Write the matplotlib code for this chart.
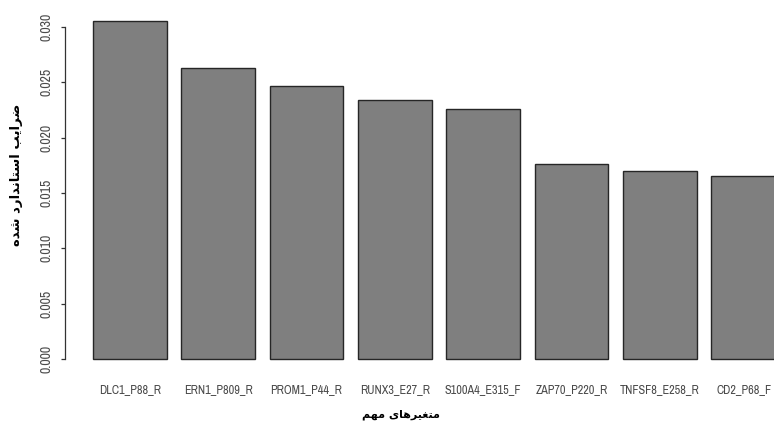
#!/usr/bin/env python3
from __future__ import annotations

import matplotlib

matplotlib.use("Agg")
import matplotlib.pyplot as plt
from matplotlib.transforms import ScaledTranslation


# data
variables = [
    "DLC1_P88_R",
    "ERN1_P809_R",
    "PROM1_P44_R",
    "RUNX3_E27_R",
    "S100A4_E315_F",
    "ZAP70_P220_R",
    "TNFSF8_E258_R",
    "CD2_P68_F",
]
coefficients = [0.03054, 0.02627, 0.02470, 0.02343, 0.02262, 0.01759, 0.01699, 0.01654]
y_ticks = [0.000, 0.005, 0.010, 0.015, 0.020, 0.025, 0.030]

x_title = "متغیرهای مهم"
y_title = "ضرایب استاندارد شده"

PLOT_CFG = {
    "dpi": 100,
    "width_px": 774,
    "height_px": 428,
    "bar_color": "#7f7f7f",
    "edge_color": "#262626",
    "tick_color": "#4a4a4a",
    "narrow_fonts": ["Archivo Narrow", "PT Sans Narrow", "Roboto Condensed", "Liberation Sans"],
}

# (isolated, final, initial, medial) presentation forms; matplotlib has no shaping
ARABIC_FORMS = {
    "ا": ("\ufe8d", "\ufe8e", None, None),
    "ب": ("\ufe8f", "\ufe90", "\ufe91", "\ufe92"),
    "ت": ("\ufe95", "\ufe96", "\ufe97", "\ufe98"),
    "د": ("\ufea9", "\ufeaa", None, None),
    "ر": ("\ufead", "\ufeae", None, None),
    "س": ("\ufeb1", "\ufeb2", "\ufeb3", "\ufeb4"),
    "ش": ("\ufeb5", "\ufeb6", "\ufeb7", "\ufeb8"),
    "ض": ("\ufebd", "\ufebe", "\ufebf", "\ufec0"),
    "غ": ("\ufecd", "\ufece", "\ufecf", "\ufed0"),
    "م": ("\ufee1", "\ufee2", "\ufee3", "\ufee4"),
    "ن": ("\ufee5", "\ufee6", "\ufee7", "\ufee8"),
    "ه": ("\ufee9", "\ufeea", "\ufeeb", "\ufeec"),
    "ی": ("\ufbfc", "\ufbfd", "\ufbfe", "\ufbff"),
}


def shape_rtl(text: str) -> str:
    out = []
    for i, ch in enumerate(text):
        forms = ARABIC_FORMS.get(ch)
        if forms is None:
            out.append(ch)
            continue
        prev = ARABIC_FORMS.get(text[i - 1]) if i > 0 else None
        nxt = ARABIC_FORMS.get(text[i + 1]) if i + 1 < len(text) else None
        join_prev = prev is not None and prev[2] is not None
        join_next = nxt is not None and forms[2] is not None
        if join_prev and join_next:
            out.append(forms[3])
        elif join_prev:
            out.append(forms[1])
        elif join_next:
            out.append(forms[2])
        else:
            out.append(forms[0])
    return "".join(reversed(out))


def main() -> None:
    tick_font = PLOT_CFG["narrow_fonts"]
    W, H = PLOT_CFG["width_px"], PLOT_CFG["height_px"]

    fig = plt.figure(figsize=(W / PLOT_CFG["dpi"], H / PLOT_CFG["dpi"]), dpi=PLOT_CFG["dpi"])
    # plot region runs past the right edge, like the cropped original
    left_px, right_px, top_px, bottom_px = 65.3, 812.5, 7.5, 372.5
    ax = fig.add_axes(
        [left_px / W, 1 - bottom_px / H, (right_px - left_px) / W, (bottom_px - top_px) / H]
    )

    n = len(variables)
    centers = [0.7 + 1.2 * i for i in range(n)]
    ax.bar(
        centers,
        coefficients,
        width=1.0,
        color=PLOT_CFG["bar_color"],
        edgecolor=PLOT_CFG["edge_color"],
        linewidth=1.0,
    )

    x_lo, x_hi = 0.2, 0.2 + 1.2 * n - 0.2
    ax.set_xlim(x_lo - 0.04 * (x_hi - x_lo), x_hi + 0.04 * (x_hi - x_lo))
    y_hi = max(coefficients)
    ax.set_ylim(-0.04 * y_hi, 1.04 * y_hi)

    for side in ["top", "right", "bottom"]:
        ax.spines[side].set_visible(False)
    ax.spines["left"].set_bounds(y_ticks[0], y_ticks[-1])
    ax.spines["left"].set_linewidth(0.9)
    ax.spines["left"].set_color("#333333")

    ax.set_yticks(y_ticks)
    ax.set_yticklabels([f"{t:.3f}" for t in y_ticks], rotation=90, va="center",
                       fontfamily=tick_font, fontsize=10, color=PLOT_CFG["tick_color"])
    ax.tick_params(axis="y", length=3.2, width=0.9, pad=5.0, color="#333333")

    ax.set_xticks(centers)
    labels = ax.set_xticklabels(variables, fontfamily=tick_font, fontsize=8.8,
                                color=PLOT_CFG["tick_color"])
    ax.tick_params(axis="x", length=0, pad=8.5)
    # last name sits a little left in the original, keeping it inside the crop
    last = labels[-1]
    last.set_transform(last.get_transform() + ScaledTranslation(-4 / 100, 0, fig.dpi_scale_trans))

    fig.text(401 / W, 1 - 415 / H, shape_rtl(x_title), ha="center", va="center",
             fontfamily="DejaVu Sans", fontweight="bold", fontsize=8)
    fig.text(17 / W, 1 - 175 / H, shape_rtl(y_title), ha="center", va="center", rotation=90,
             fontfamily="DejaVu Sans", fontweight="bold", fontsize=9.5)

    fig.savefig("out.png", dpi=PLOT_CFG["dpi"])
    plt.close(fig)


if __name__ == "__main__":
    main()
